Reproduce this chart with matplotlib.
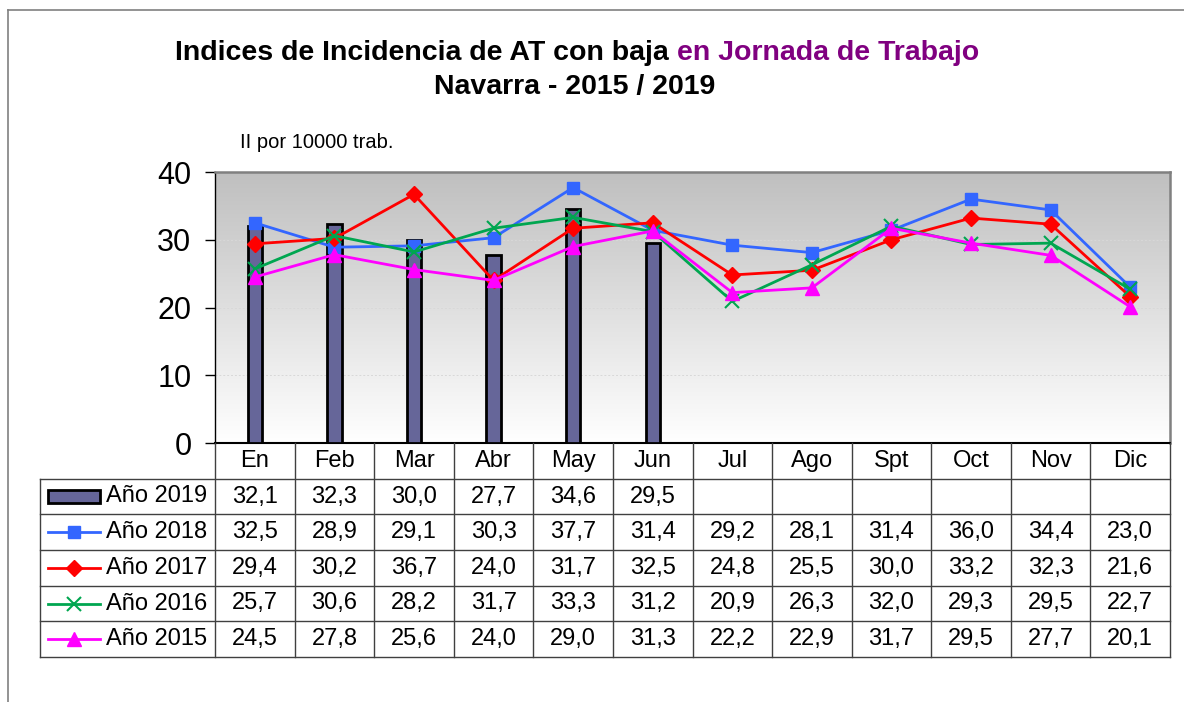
import numpy as np
import matplotlib
matplotlib.use('Agg')
from matplotlib import pyplot as plt
from matplotlib.colors import LinearSegmentedColormap
from matplotlib.patches import Rectangle
from matplotlib.lines import Line2D

plt.rcParams['font.family'] = ['Liberation Sans', 'DejaVu Sans']

months = ['En', 'Feb', 'Mar', 'Abr', 'May', 'Jun', 'Jul', 'Ago', 'Spt', 'Oct', 'Nov', 'Dic']
y2019 = [32.1, 32.3, 30.0, 27.7, 34.6, 29.5]
y2018 = [32.5, 28.9, 29.1, 30.3, 37.7, 31.4, 29.2, 28.1, 31.4, 36.0, 34.4, 23.0]
y2017 = [29.4, 30.2, 36.7, 24.0, 31.7, 32.5, 24.8, 25.5, 30.0, 33.2, 32.3, 21.6]
y2016 = [25.7, 30.6, 28.2, 31.7, 33.3, 31.2, 20.9, 26.3, 32.0, 29.3, 29.5, 22.7]
y2015 = [24.5, 27.8, 25.6, 24.0, 29.0, 31.3, 22.2, 22.9, 31.7, 29.5, 27.7, 20.1]

W, H = 1184, 702
fig = plt.figure(figsize=(W / 100, H / 100), dpi=100)

def px(x0, y0, x1, y1):
    return [x0 / W, 1 - y1 / H, (x1 - x0) / W, (y1 - y0) / H]

# outer frame (left + top)
fig.add_artist(Line2D([8 / W, 8 / W], [0, 1 - 10 / H], color='#808080', lw=1.2))
fig.add_artist(Line2D([8 / W, 1], [1 - 10 / H, 1 - 10 / H], color='#808080', lw=1.2))

ax = fig.add_axes(px(215, 172, 1170, 443))
x = np.arange(len(months))

# background gradient
cmap = LinearSegmentedColormap.from_list('bg', ['#ffffff', '#bfbfbf'])
grad = np.linspace(0, 1, 256).reshape(-1, 1)
ax.imshow(grad, extent=[-0.5, 11.5, 0, 40], aspect='auto', cmap=cmap, origin='lower', zorder=0)

for g in [10, 20, 30]:
    ax.axhline(g, color='#d8d8d8', lw=0.7, ls=(0, (2, 2)), zorder=1)

ax.bar(x[:len(y2019)], y2019, width=0.18, color='#666699', edgecolor='black', linewidth=2, zorder=3)

series = [
    (y2018, '#3366ff', 's', 9, 'Año 2018'),
    (y2017, '#ff0000', 'D', 8, 'Año 2017'),
    (y2016, '#00a650', 'x', 10, 'Año 2016'),
    (y2015, '#ff00ff', '^', 10, 'Año 2015'),
]
for vals, col, mk, ms, lab in series:
    ax.plot(x, vals, color=col, marker=mk, markersize=ms, lw=2, mew=1.5 if mk == 'x' else 1,
            zorder=4, clip_on=False)

ax.set_xlim(-0.5, 11.5)
ax.set_ylim(0, 40)
ax.set_yticks([0, 10, 20, 30, 40])
ax.set_xticks([])
ax.tick_params(axis='y', direction='out', length=7, width=1, labelsize=22, pad=10)
for s in ['top', 'right']:
    ax.spines[s].set_color('#808080')
    ax.spines[s].set_linewidth(1.8)
ax.spines['left'].set_linewidth(1)
ax.spines['bottom'].set_linewidth(1.5)

# data table
tab = fig.add_axes(px(40, 443, 1170, 657))
tab.set_xlim(-2.7, 11.5)
tab.set_ylim(6, 0)
tab.axis('off')
lc = '#404040'
for r in range(1, 7):
    tab.plot([-2.7, 11.5], [r, r], color=lc, lw=1, clip_on=False)
for k in range(13):
    tab.plot([k - 0.5, k - 0.5], [0, 6], color=lc, lw=1, clip_on=False)
tab.plot([-2.7, -2.7], [1, 6], color=lc, lw=1, clip_on=False)

fs = 17
for i, m in enumerate(months):
    tab.text(i, 0.5, m, ha='center', va='center', fontsize=fs)

rows = [(y2019, None, None, None, 'Año 2019')] + series
for r, (vals, col, mk, ms, lab) in enumerate(rows, start=1):
    yc = r + 0.5
    if col is None:
        tab.add_patch(Rectangle((-2.6, yc - 0.17), 0.66, 0.34, facecolor='#666699',
                                edgecolor='black', lw=2, clip_on=False))
    else:
        tab.plot([-2.6, -1.94], [yc, yc], color=col, lw=2, clip_on=False)
        tab.plot([-2.27], [yc], color=col, marker=mk, markersize=ms, mew=1.5 if mk == 'x' else 1,
                 clip_on=False)
    tab.text(-1.87, yc, lab, ha='left', va='center', fontsize=fs)
    for i, v in enumerate(vals):
        tab.text(i, yc, f'{v:.1f}'.replace('.', ','), ha='center', va='center', fontsize=fs)

# title
fig.canvas.draw()
r = fig.canvas.get_renderer()
tfs = 20.5
t1 = fig.text(0, 1 - 53 / H, 'Indices de Incidencia de AT con baja ', fontsize=tfs, fontweight='bold',
              va='center', ha='left')
t2 = fig.text(0, 1 - 53 / H, 'en Jornada de Trabajo', fontsize=tfs, fontweight='bold',
              color='#800080', va='center', ha='left')
w1 = t1.get_window_extent(r).width
w2 = t2.get_window_extent(r).width
x0 = 577 - (w1 + w2) / 2
t1.set_x(x0 / W)
t2.set_x((x0 + w1) / W)
fig.text(575 / W, 1 - 87 / H, 'Navarra - 2015 / 2019', fontsize=tfs, fontweight='bold',
         ha='center', va='center')
fig.text(240 / W, 1 - 143 / H, 'II por 10000 trab.', fontsize=14.5, ha='left', va='center')

fig.savefig('out.png', dpi=100)
